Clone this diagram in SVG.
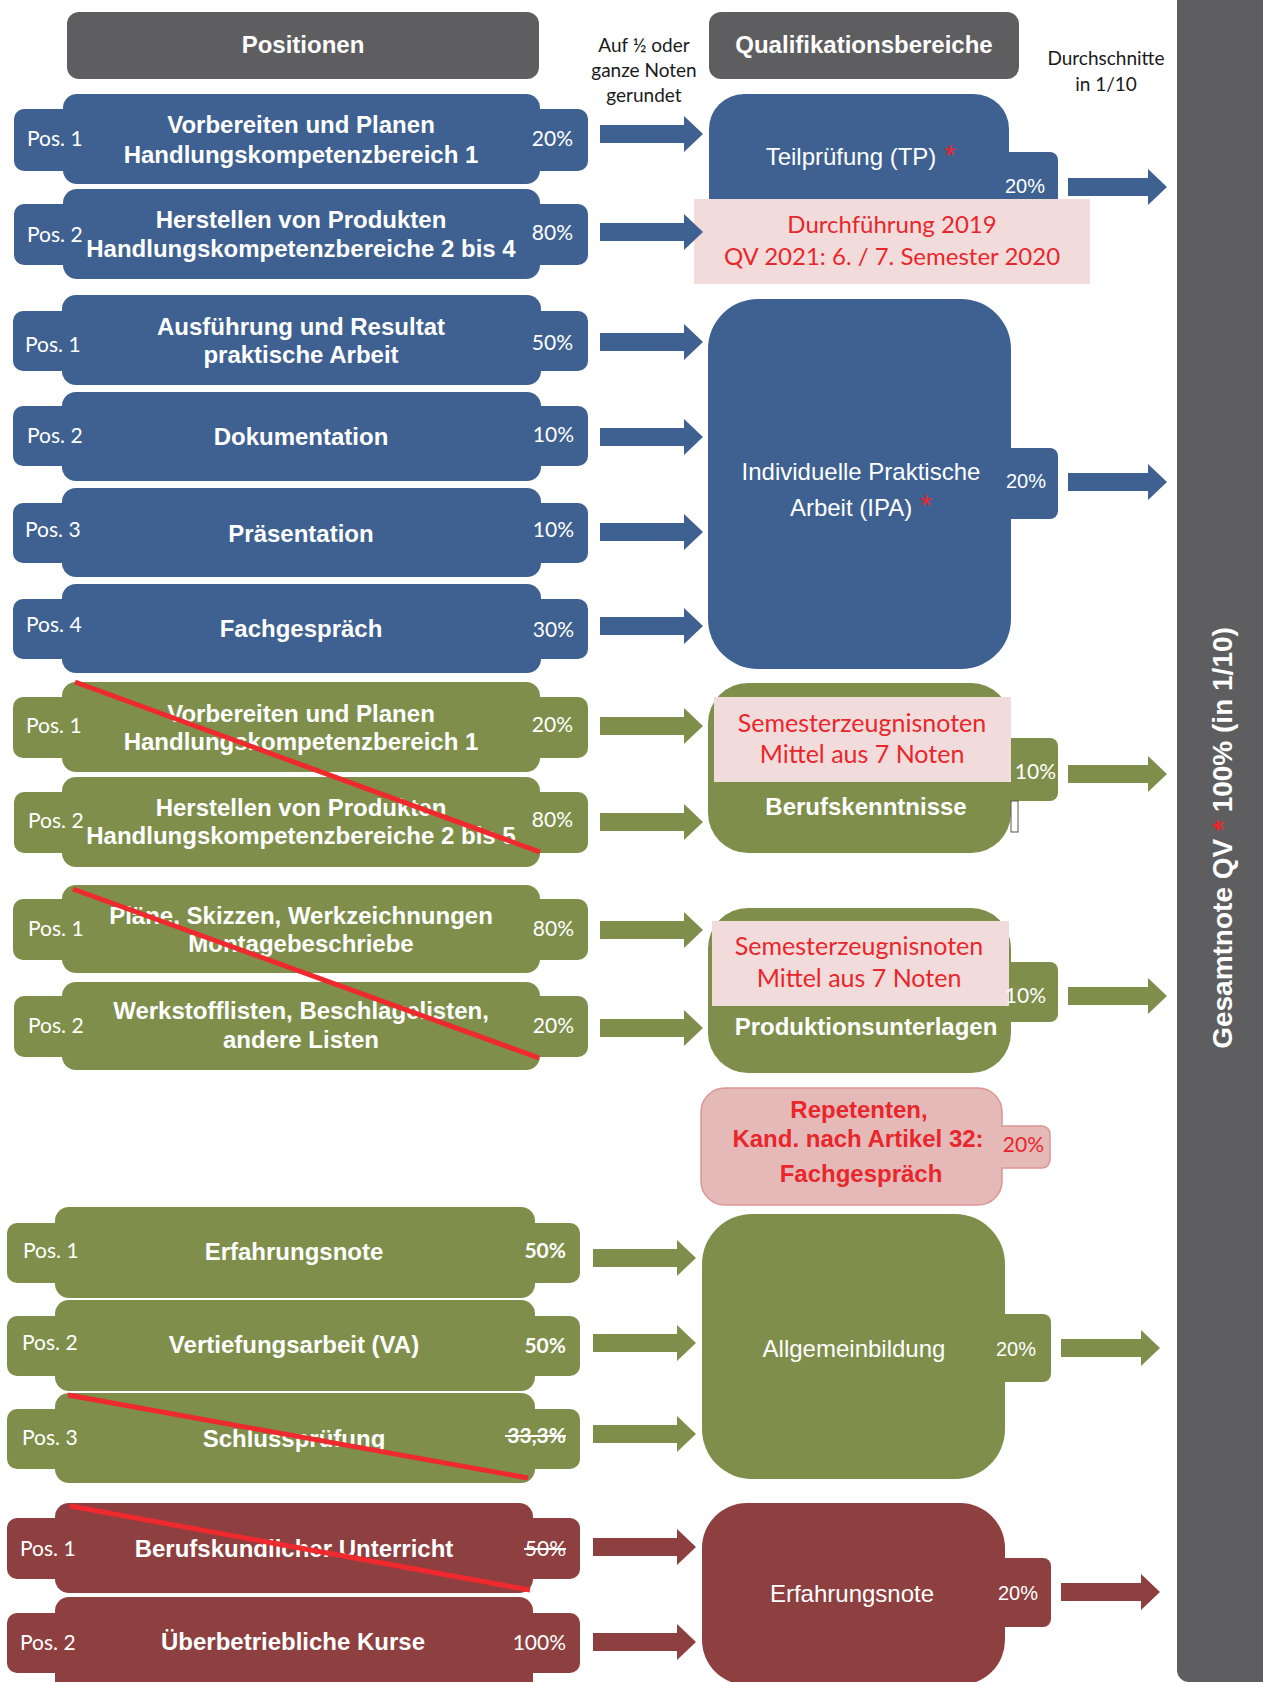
<svg xmlns="http://www.w3.org/2000/svg" xmlns:xlink="http://www.w3.org/1999/xlink" width="1263" height="1682" viewBox="0 0 1263 1682">
<style>
.blue{fill:#3E6191}
.green{fill:#7F8F4B}
.brown{fill:#8E3F40}
.hdr{fill:#5E5E60}
.pink{fill:#F2DCDB}
.t{font-family:"Liberation Sans",Arial,sans-serif;fill:#fff}
.b{font-weight:bold;font-size:24px}
.r{font-size:24px}
.p20{font-family:"Liberation Sans",Arial,sans-serif;font-size:20px;fill:#fff}
.c{font-family:Lato,"Liberation Sans",sans-serif}
.pos{font-size:21px;fill:#fff}
.note{font-size:19px;fill:#1a1a1a}
.rc{font-size:24px;fill:#E8262B}
.rs{font-size:25px;fill:#E8262B}
.mid{text-anchor:middle}
.end{text-anchor:end}
.red{fill:#E8262B}
.slash{stroke:#EE2A2E;stroke-width:5}
.strike{stroke:#fff;stroke-width:2}
</style>
<defs>
<path id="arrL" d="M0,-9 H84 V-18 L103,0 L84,18 V9 H0 Z"/>
<path id="arrR" d="M0,-9 H80 V-18 L99,0 L80,18 V9 H0 Z"/>
</defs>

<rect id="total-bar" x="1177" y="-20" width="100" height="1702" rx="12" class="hdr"/>
<text class="t" font-weight="bold" font-size="28" text-anchor="middle" transform="translate(1232,838) rotate(-90)">Gesamtnote QV <tspan class="red">*</tspan> 100% (in 1/10)</text>

<g id="hdr-positionen"><rect class="hdr" x="67" y="12" width="472" height="67" rx="12"/><text class="t b mid" x="303" y="53">Positionen</text></g>
<g id="hdr-qualif"><rect class="hdr" x="709" y="12" width="310" height="67" rx="12"/><text class="t b mid" x="864" y="53">Qualifikationsbereiche</text></g>
<g id="note-runden"><text class="c note mid" x="644" y="52">Auf ½ oder</text><text class="c note mid" x="644" y="77">ganze Noten</text><text class="c note mid" x="644" y="102">gerundet</text></g>
<g id="note-durchschnitt"><text class="c note mid" x="1106" y="65">Durchschnitte</text><text class="c note mid" x="1106" y="91">in 1/10</text></g>

<!-- Teilprüfung positions -->
<g id="tp-pos1"><rect class="blue" x="63" y="94" width="477" height="90" rx="14"/><rect class="blue" x="14" y="109" width="574" height="62" rx="10"/>
<text class="c pos" x="27" y="146">Pos. 1</text><text class="t b mid" x="301" y="133">Vorbereiten und Planen</text><text class="t b mid" x="301" y="163">Handlungskompetenzbereich 1</text><text class="c pos end" x="573" y="146">20%</text></g>
<g id="tp-pos2"><rect class="blue" x="63" y="189" width="477" height="90" rx="14"/><rect class="blue" x="14" y="204" width="574" height="61" rx="10"/>
<text class="c pos" x="27" y="242">Pos. 2</text><text class="t b mid" x="301" y="228">Herstellen von Produkten</text><text class="t b mid" x="301" y="257">Handlungskompetenzbereiche 2 bis 4</text><text class="c pos end" x="573" y="240">80%</text></g>

<!-- IPA positions -->
<g id="ipa-pos1"><rect class="blue" x="62" y="295" width="479" height="90" rx="14"/><rect class="blue" x="13" y="311" width="575" height="60" rx="10"/>
<text class="c pos" x="25" y="352">Pos. 1</text><text class="t b mid" x="301" y="335">Ausführung und Resultat</text><text class="t b mid" x="301" y="363">praktische Arbeit</text><text class="c pos end" x="573" y="350">50%</text></g>
<g id="ipa-pos2"><rect class="blue" x="62" y="392" width="479" height="89" rx="14"/><rect class="blue" x="13" y="406" width="575" height="60" rx="10"/>
<text class="c pos" x="27" y="443">Pos. 2</text><text class="t b mid" x="301" y="445">Dokumentation</text><text class="c pos end" x="574" y="442">10%</text></g>
<g id="ipa-pos3"><rect class="blue" x="62" y="488" width="479" height="89" rx="14"/><rect class="blue" x="13" y="503" width="575" height="60" rx="10"/>
<text class="c pos" x="25" y="537">Pos. 3</text><text class="t b mid" x="301" y="542">Präsentation</text><text class="c pos end" x="574" y="537">10%</text></g>
<g id="ipa-pos4"><rect class="blue" x="62" y="584" width="479" height="89" rx="14"/><rect class="blue" x="13" y="599" width="575" height="60" rx="10"/>
<text class="c pos" x="26" y="632">Pos. 4</text><text class="t b mid" x="301" y="637">Fachgespräch</text><text class="c pos end" x="574" y="637">30%</text></g>

<!-- Berufskenntnisse positions -->
<g id="bk-pos1"><rect class="green" x="62" y="682" width="478" height="90" rx="14"/><rect class="green" x="13" y="697" width="575" height="61" rx="10"/>
<text class="c pos" x="26" y="733">Pos. 1</text><text class="t b mid" x="301" y="722">Vorbereiten und Planen</text><text class="t b mid" x="301" y="750">Handlungskompetenzbereich 1</text><text class="c pos end" x="573" y="732">20%</text></g>
<g id="bk-pos2"><rect class="green" x="62" y="777" width="478" height="90" rx="14"/><rect class="green" x="14" y="792" width="574" height="61" rx="10"/>
<text class="c pos" x="28" y="828">Pos. 2</text><text class="t b mid" x="301" y="816">Herstellen von Produkten</text><text class="t b mid" x="301" y="844">Handlungskompetenzbereiche 2 bis 5</text><text class="c pos end" x="573" y="827">80%</text></g>

<!-- Produktionsunterlagen positions -->
<g id="pu-pos1"><rect class="green" x="62" y="885" width="478" height="88" rx="14"/><rect class="green" x="13" y="899" width="575" height="61" rx="10"/>
<text class="c pos" x="28" y="936">Pos. 1</text><text class="t b mid" x="301" y="924">Pläne, Skizzen, Werkzeichnungen</text><text class="t b mid" x="301" y="952">Montagebeschriebe</text><text class="c pos end" x="574" y="936">80%</text></g>
<g id="pu-pos2"><rect class="green" x="62" y="982" width="478" height="88" rx="14"/><rect class="green" x="14" y="996" width="574" height="61" rx="10"/>
<text class="c pos" x="28" y="1033">Pos. 2</text><text class="t b mid" x="301" y="1019">Werkstofflisten, Beschlagelisten,</text><text class="t b mid" x="301" y="1048">andere Listen</text><text class="c pos end" x="574" y="1033">20%</text></g>

<!-- Allgemeinbildung positions -->
<g id="ab-pos1"><rect class="green" x="55" y="1207" width="480" height="91" rx="14"/><rect class="green" x="7" y="1223" width="573" height="60" rx="10"/>
<text class="c pos" x="23" y="1258">Pos. 1</text><text class="t b mid" x="294" y="1260">Erfahrungsnote</text><text class="c pos end" x="566" y="1258" font-weight="bold">50%</text></g>
<g id="ab-pos2"><rect class="green" x="55" y="1300" width="480" height="91" rx="14"/><rect class="green" x="7" y="1316" width="573" height="60" rx="10"/>
<text class="c pos" x="22" y="1350">Pos. 2</text><text class="t b mid" x="294" y="1353">Vertiefungsarbeit (VA)</text><text class="c pos end" x="566" y="1353" font-weight="bold">50%</text></g>
<g id="ab-pos3"><rect class="green" x="55" y="1393" width="480" height="90" rx="14"/><rect class="green" x="7" y="1409" width="573" height="60" rx="10"/>
<text class="c pos" x="22" y="1445">Pos. 3</text><text class="t b mid" x="294" y="1447">Schlussprüfung</text><text class="c pos end" x="566" y="1443" font-weight="bold">33,3%</text><line class="strike" x1="505" y1="1436" x2="566" y2="1436"/></g>

<!-- Erfahrungsnote positions -->
<g id="en-pos1"><rect class="brown" x="55" y="1503" width="478" height="90" rx="14"/><rect class="brown" x="7" y="1518" width="573" height="61" rx="10"/>
<text class="c pos" x="20" y="1556">Pos. 1</text><text class="t b mid" x="294" y="1557">Berufskundlicher Unterricht</text><text class="c pos end" x="566" y="1556">50%</text><line class="strike" x1="524" y1="1549" x2="566" y2="1549"/></g>
<g id="en-pos2"><rect class="brown" x="55" y="1597" width="478" height="100" rx="14"/><rect class="brown" x="7" y="1613" width="573" height="60" rx="10"/>
<text class="c pos" x="20" y="1650">Pos. 2</text><text class="t b mid" x="293" y="1650">Überbetriebliche Kurse</text><text class="c pos end" x="566" y="1650">100%</text></g>

<!-- strike-out lines -->
<g id="strikeouts">
<line class="slash" x1="75" y1="682" x2="540" y2="852"/>
<line class="slash" x1="73" y1="889" x2="539" y2="1058"/>
<line class="slash" x1="68" y1="1395" x2="528" y2="1478"/>
<line class="slash" x1="70" y1="1506" x2="530" y2="1590"/>
</g>

<!-- Qualifikationsbereiche -->
<g id="q-tp"><rect class="blue" x="995" y="152" width="63" height="62" rx="8"/><rect class="blue" x="709" y="94" width="300" height="140" rx="35"/>
<text class="t r mid" x="851" y="165">Teilprüfung (TP)</text><text class="red" font-family="Liberation Sans,Arial,sans-serif" font-size="30" text-anchor="middle" x="950" y="165">*</text>
<text class="p20 end" x="1045" y="193">20%</text></g>
<g id="note-tp"><rect class="pink" x="694" y="199" width="396" height="85"/><text class="c rc mid" x="892" y="233">Durchführung 2019</text><text class="c rc mid" x="892" y="265">QV 2021: 6. / 7. Semester 2020</text></g>

<g id="q-ipa"><rect class="blue" x="995" y="448" width="63" height="71" rx="8"/><rect class="blue" x="708" y="299" width="303" height="370" rx="50"/>
<text class="t r mid" x="861" y="480">Individuelle Praktische</text><text class="t r mid" x="851" y="516">Arbeit (IPA)</text><text class="red" font-family="Liberation Sans,Arial,sans-serif" font-size="30" text-anchor="middle" x="926" y="515">*</text>
<text class="p20 end" x="1046" y="488">20%</text></g>

<g id="q-bk"><rect class="green" x="995" y="738" width="63" height="63" rx="8"/><rect class="green" x="708" y="683" width="303" height="170" rx="40"/>
<rect x="1011" y="801" width="7" height="31" fill="#fff" stroke="#555" stroke-width="1"/>
<rect class="pink" x="714" y="697" width="297" height="85"/>
<text class="c rs mid" x="862" y="732">Semesterzeugnisnoten</text><text class="c rs mid" x="862" y="763">Mittel aus 7 Noten</text>
<text class="c pos end" x="1056" y="779">10%</text>
<text class="t b mid" x="866" y="815">Berufskenntnisse</text></g>

<g id="q-pu"><rect class="green" x="995" y="962" width="63" height="60" rx="8"/><rect class="green" x="708" y="908" width="303" height="165" rx="40"/>
<rect class="pink" x="712" y="921" width="297" height="85"/>
<text class="c rs mid" x="859" y="955">Semesterzeugnisnoten</text><text class="c rs mid" x="859" y="987">Mittel aus 7 Noten</text>
<text class="c pos end" x="1046" y="1003">10%</text>
<text class="t b mid" x="866" y="1035">Produktionsunterlagen</text></g>

<g id="q-repetenten"><path d="M725,1088 H978 A24,24 0 0 1 1002,1112 V1126 H1042 A8,8 0 0 1 1050,1134 V1160 A8,8 0 0 1 1042,1168 H1002 V1181 A24,24 0 0 1 978,1205 H725 A24,24 0 0 1 701,1181 V1112 A24,24 0 0 1 725,1088 Z" fill="#E5B9B8" stroke="#D99795" stroke-width="1.5"/>
<text class="b mid" font-family="Liberation Sans,Arial,sans-serif" fill="#E8262B" x="859" y="1118">Repetenten,</text>
<text class="b mid" font-family="Liberation Sans,Arial,sans-serif" fill="#E8262B" x="858" y="1147">Kand. nach Artikel 32:</text>
<text class="b mid" font-family="Liberation Sans,Arial,sans-serif" fill="#E8262B" x="861" y="1182">Fachgespräch</text>
<text class="c end" font-size="21" fill="#E8262B" x="1044" y="1152">20%</text></g>

<g id="q-ab"><rect class="green" x="990" y="1314" width="61" height="68" rx="8"/><rect class="green" x="702" y="1214" width="303" height="265" rx="50"/>
<text class="t r mid" x="854" y="1357">Allgemeinbildung</text><text class="p20 end" x="1036" y="1356">20%</text></g>

<g id="q-en"><rect class="brown" x="990" y="1558" width="61" height="69" rx="8"/><rect class="brown" x="702" y="1503" width="303" height="182" rx="45"/>
<text class="t r mid" x="852" y="1602">Erfahrungsnote</text><text class="p20 end" x="1038" y="1600">20%</text></g>

<!-- connectors -->
<g id="connectors">
<use xlink:href="#arrL" href="#arrL" class="blue" x="600" y="134"/>
<use xlink:href="#arrL" href="#arrL" class="blue" x="600" y="232"/>
<use xlink:href="#arrL" href="#arrL" class="blue" x="600" y="342"/>
<use xlink:href="#arrL" href="#arrL" class="blue" x="600" y="437"/>
<use xlink:href="#arrL" href="#arrL" class="blue" x="600" y="532"/>
<use xlink:href="#arrL" href="#arrL" class="blue" x="600" y="626"/>
<use xlink:href="#arrL" href="#arrL" class="green" x="600" y="726"/>
<use xlink:href="#arrL" href="#arrL" class="green" x="600" y="822"/>
<use xlink:href="#arrL" href="#arrL" class="green" x="600" y="930"/>
<use xlink:href="#arrL" href="#arrL" class="green" x="600" y="1028"/>
<use xlink:href="#arrL" href="#arrL" class="green" x="593" y="1258"/>
<use xlink:href="#arrL" href="#arrL" class="green" x="593" y="1343"/>
<use xlink:href="#arrL" href="#arrL" class="green" x="593" y="1434"/>
<use xlink:href="#arrL" href="#arrL" class="brown" x="593" y="1547"/>
<use xlink:href="#arrL" href="#arrL" class="brown" x="593" y="1642"/>
<use xlink:href="#arrR" href="#arrR" class="blue" x="1068" y="187"/>
<use xlink:href="#arrR" href="#arrR" class="blue" x="1068" y="482"/>
<use xlink:href="#arrR" href="#arrR" class="green" x="1068" y="774"/>
<use xlink:href="#arrR" href="#arrR" class="green" x="1068" y="996"/>
<use xlink:href="#arrR" href="#arrR" class="green" x="1061" y="1348"/>
<use xlink:href="#arrR" href="#arrR" class="brown" x="1061" y="1592"/>
</g>
</svg>
